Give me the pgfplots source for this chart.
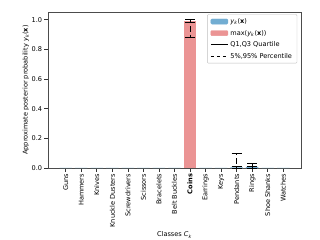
\documentclass[border=0pt]{standalone}
\usepackage{fontspec}
\setmainfont{DejaVu Sans}
\usepackage{pgfplots}
\pgfplotsset{compat=1.18}
\definecolor{barred}{RGB}{235,148,148}
\definecolor{barblue}{RGB}{114,173,210}
\newcommand{\f}{\fontsize{6.6}{7.6}\selectfont}
\begin{document}
\f
\begin{tikzpicture}
\begin{axis}[name=ax, scale only axis, width=253bp, height=156bp,
 font=\f,
 xmin=-1.14, xmax=15.14, ymin=0, ymax=1.052,
 xtick={0,1,2,3,4,5,6,7,8,9,10,11,12,13,14},
 xticklabels={Guns,Hammers,Knives,Knuckle Dusters,Screwdrivers,Scissors,Bracelets,Belt Buckles,\textbf{Coins},Earrings,Keys,Pendants,Rings,Shoe Shanks,Watches},
 tick label style={font=\f},
 label style={font=\f},
 x tick label style={rotate=90, anchor=east},
 ytick={0,0.2,0.4,0.6,0.8,1.0},
 tick align=outside, xtick pos=bottom, ytick pos=left,
 major tick length=3.5bp,
 tick style={black!80, line width=0.6pt},
 axis line style={black!70, line width=0.6pt},
 /pgf/number format/assume math mode=true,
 yticklabel style={/pgf/number format/.cd, fixed, fixed zerofill, precision=1},
 ylabel={Approximate posterior probability \textit{y}\textsubscript{\textit{k}}(\textbf{x})},
 xlabel={Classes \textit{C}\textsubscript{\textit{k}}},
 ylabel style={yshift=-2bp},
 legend style={at={(0.985,0.985)}, anchor=north east, draw=black!25, rounded corners=1pt, font=\f, row sep=1.6pt, inner ysep=2pt},
 legend cell align=left,
]
\addlegendimage{legend image code/.code={\fill[barblue] (0cm,-0.09cm) rectangle (0.6cm,0.09cm);}}
\addlegendentry{\textit{y}\textsubscript{\textit{k}}(\textbf{x})}
\addlegendimage{legend image code/.code={\fill[barred] (0cm,-0.09cm) rectangle (0.6cm,0.09cm);}}
\addlegendentry{max(\textit{y}\textsubscript{\textit{k}}(\textbf{x}))}
\addlegendimage{black, line width=1bp}
\addlegendentry{Q1,Q3 Quartile}
\addlegendimage{black, dashed, line width=1bp}
\addlegendentry{5\%,95\% Percentile}

\addplot[ybar, bar width=0.8, bar shift=0pt, fill=barblue, draw=none, forget plot] coordinates {
(0,0.001) (1,0.001) (2,0.001) (3,0.001) (4,0.001) (5,0.001) (6,0.001) (7,0.001)
(9,0.001) (10,0.001) (11,0.005) (12,0.008) (13,0.001) (14,0.001)};
\addplot[ybar, bar width=0.8, bar shift=0pt, fill=barred, draw=none, forget plot] coordinates {(8,0.993)};

% 5%,95% percentile (dashed)
\addplot[draw=none, forget plot, error bars/.cd, y dir=both, y explicit,
 error bar style={draw=black, dashed, line width=1bp},
 error mark options={solid, black, rotate=90, mark size=5bp, line width=1bp}] coordinates {
(8,0.94) +- (0,0.06)
(11,0.05) +- (0,0.05)
(12,0.015) +- (0,0.015)};
% Q1,Q3 quartile (solid)
\addplot[draw=none, forget plot, error bars/.cd, y dir=both, y explicit,
 error bar style={draw=black, solid, line width=1bp},
 error mark options={solid, black, rotate=90, mark size=5bp, line width=1bp}] coordinates {
(8,0.99) +- (0,0.01)
(11,0.005) +- (0,0.005)
(12,0.02) +- (0,0.007)};
\end{axis}
\pgfresetboundingbox
\path ([xshift=-48bp,yshift=-72bp]ax.south west) rectangle ([xshift=19bp,yshift=12bp]ax.north east);
\end{tikzpicture}
\end{document}
